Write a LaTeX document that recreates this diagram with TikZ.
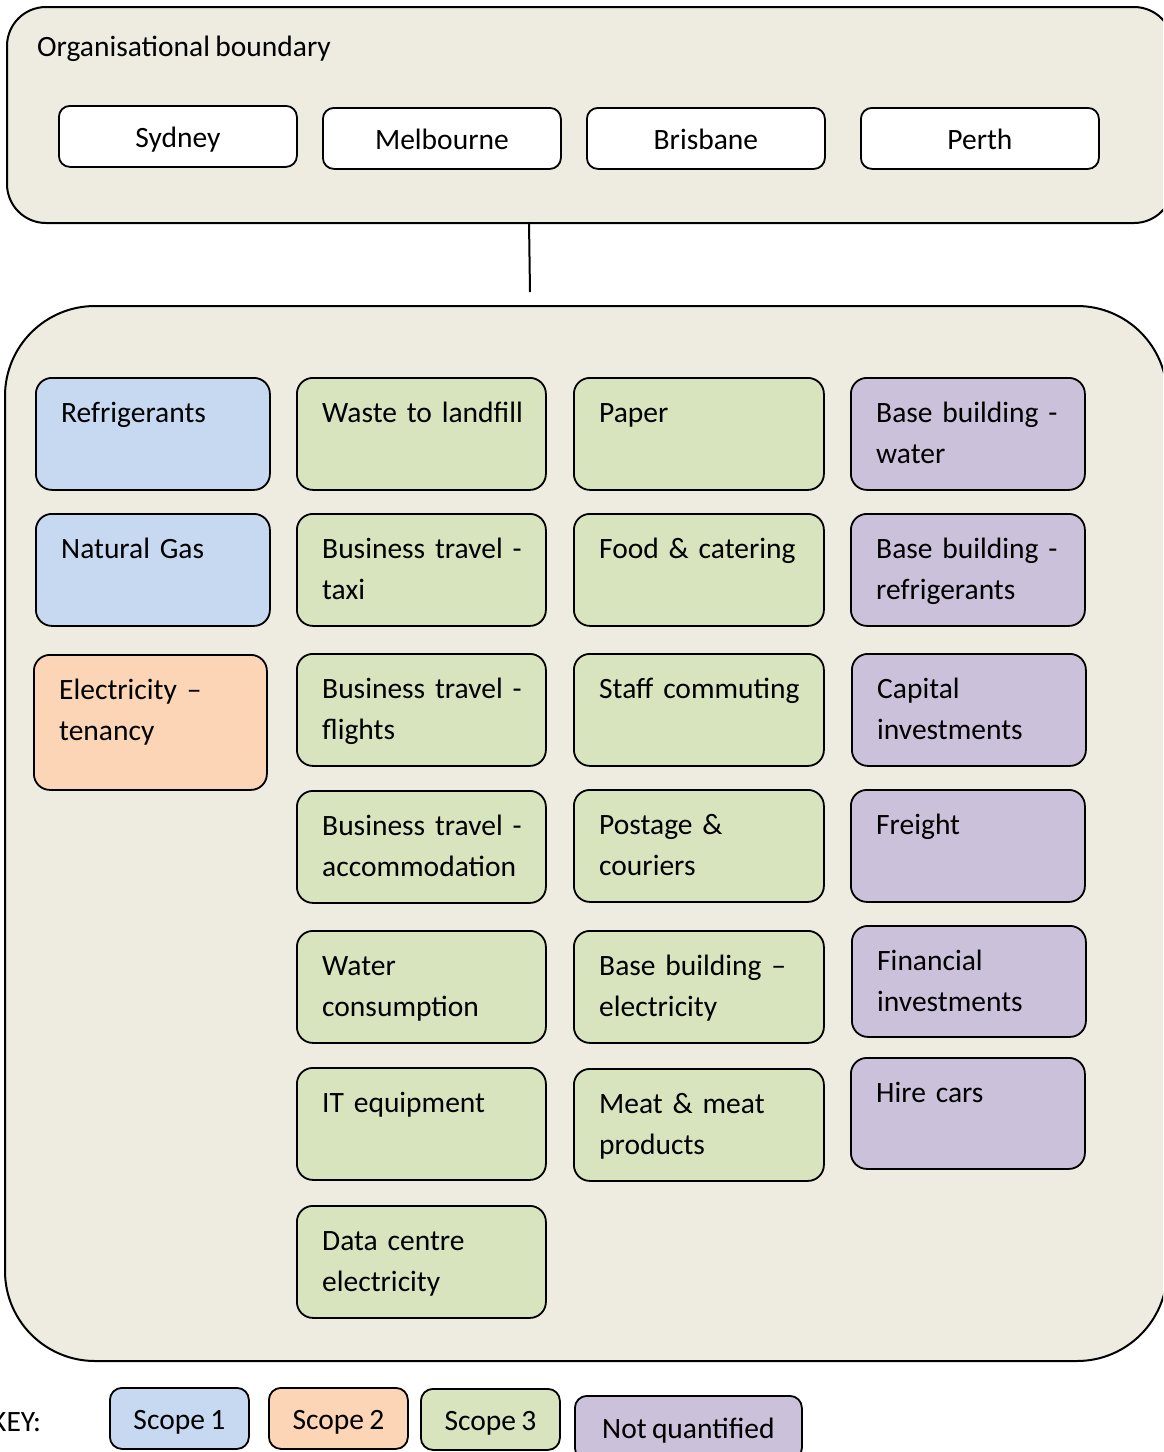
\documentclass[tikz,border=0pt]{standalone}
\usepackage{fontspec}
\setmainfont[WordSpace=0.8]{Carlito}
\usetikzlibrary{calc}
\definecolor{bgc}{HTML}{EEECE1}
\definecolor{sone}{HTML}{C6D9F1}
\definecolor{stwo}{HTML}{FBD5B5}
\definecolor{sthree}{HTML}{D7E4BD}
\definecolor{snq}{HTML}{CCC1DA}
\newcommand\ebox[7]{%
  \node[cell, fill=#6, minimum width=#4pt, minimum height=#5pt] (#1) at (#2,#3) {};
  \node[celltext] (#1t) at ($(#1.north west)+(26,45)$) {#7};
}
\begin{document}
\begin{tikzpicture}[x=1pt,y=-1pt,
  txt/.style={font=\fontsize{29.5}{41}\selectfont, inner sep=0pt},
  cell/.style={draw, line width=1.8pt, rounded corners=16pt, anchor=north west, inner sep=0pt},
  celltext/.style={txt, anchor=base west, text width=232pt, align=left},
  city/.style={draw, line width=1.8pt, rounded corners=11pt, fill=white, anchor=north west,
    minimum width=238pt, minimum height=61pt, inner sep=0pt, text height=22pt, text depth=0pt,
    font=\fontsize{29.5}{41}\selectfont},
  keybox/.style={draw, line width=1.8pt, rounded corners=12pt, anchor=north west,
    minimum height=61pt, inner sep=0pt, text height=22pt, text depth=0pt,
    font=\fontsize{29.5}{41}\selectfont},
  outer/.style={draw, line width=2pt, fill=bgc, anchor=north west, inner sep=0pt}]
\useasboundingbox (0,0) rectangle (1163,1452);
\clip (0,0) rectangle (1163,1452);

% organisational boundary
\node[outer, rounded corners=39pt, minimum width=1166pt, minimum height=216pt] (org) at (6,6) {};
\node[txt, anchor=base west] (orgt) at (37,56) {Organisational boundary};
\node[city] (syd) at (58,105) {Sydney};
\node[city] (mel) at (322,107) {Melbourne};
\node[city] (bri) at (586,107) {Brisbane};
\node[city] (per) at (860,107) {Perth};

% connector
\coordinate (lnstart) at (529,222);
\coordinate (lnend) at (530,292);
\draw[line width=2pt] (lnstart) -- (lnend);

% emissions boundary
\node[outer, rounded corners=90pt, minimum width=1162pt, minimum height=1055pt] (emb) at (4,305) {};

% column 1
\ebox{refr}{35}{377}{234}{112}{sone}{Refrigerants}
\ebox{gas}{35}{513}{234}{112}{sone}{Natural Gas}
\ebox{elec}{33}{654}{233}{135}{stwo}{Electricity –\\tenancy}

% column 2
\ebox{waste}{296}{377}{249}{112}{sthree}{Waste to landfill}
\ebox{taxi}{296}{513}{249}{112}{sthree}{Business travel -\\taxi}
\ebox{flights}{296}{653}{249}{112}{sthree}{Business travel -\\flights}
\ebox{accom}{296}{790}{249}{112}{sthree}{Business travel -\\accommodation}
\ebox{water}{296}{930}{249}{112}{sthree}{Water\\consumption}
\ebox{it}{296}{1067}{249}{112}{sthree}{IT equipment}
\ebox{dc}{296}{1205}{249}{112}{sthree}{Data centre\\electricity}

% column 3
\ebox{paper}{573}{377}{250}{112}{sthree}{Paper}
\ebox{food}{573}{513}{250}{112}{sthree}{Food \& catering}
\ebox{staff}{573}{653}{250}{112}{sthree}{Staff commuting}
\ebox{post}{573}{789}{250}{112}{sthree}{Postage \&\\couriers}
\ebox{bbe}{573}{930}{250}{112}{sthree}{Base building –\\electricity}
\ebox{meat}{573}{1068}{250}{112}{sthree}{Meat \& meat\\products}

% column 4
\ebox{bbw}{850}{377}{234}{112}{snq}{Base building -\\water}
\ebox{bbr}{850}{513}{234}{112}{snq}{Base building -\\refrigerants}
\ebox{cap}{851}{653}{234}{112}{snq}{Capital\\investments}
\ebox{frt}{850}{789}{234}{112}{snq}{Freight}
\ebox{fin}{851}{925}{234}{111}{snq}{Financial\\investments}
\ebox{hire}{850}{1057}{234}{111}{snq}{Hire cars}

% key
\node[txt, anchor=base west] (key) at (-9,1431) {KEY:};
\node[keybox, fill=sone, minimum width=139pt] (k1) at (109,1387) {Scope 1};
\node[keybox, fill=stwo, minimum width=139pt] (k2) at (268,1387) {Scope 2};
\node[keybox, fill=sthree, minimum width=139pt] (k3) at (420,1388) {Scope 3};
\node[keybox, fill=snq, minimum width=227pt, minimum height=64pt] (k4) at (574,1395) {Not quantified};
\end{tikzpicture}
\end{document}
